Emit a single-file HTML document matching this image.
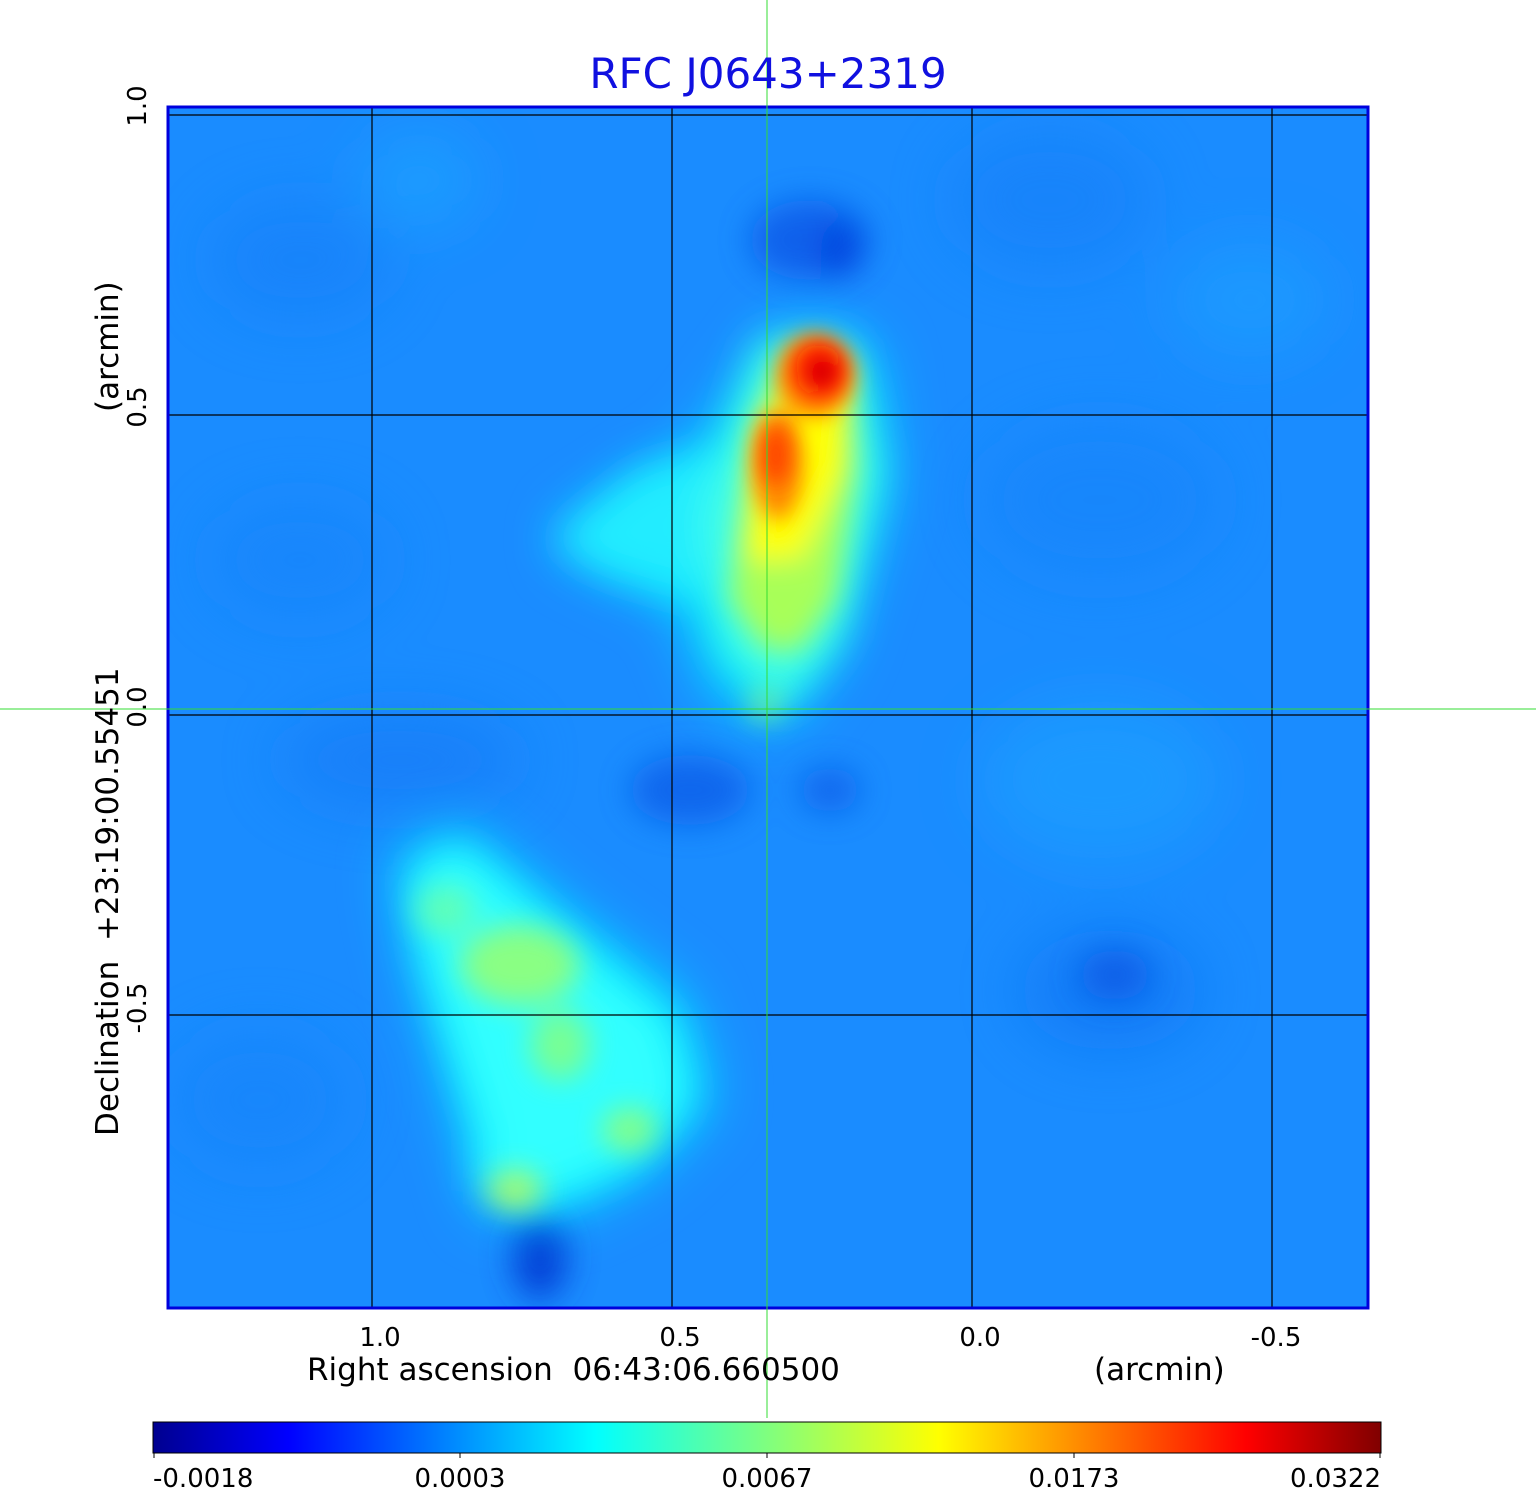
<!DOCTYPE html>
<html><head><style>
html,body{margin:0;padding:0;background:#fff;}
svg{display:block;font-family:"DejaVu Sans","Liberation Sans",sans-serif;}
</style></head><body>
<svg width="1536" height="1511" viewBox="0 0 1536 1511" xmlns="http://www.w3.org/2000/svg">
<defs>
<filter id="b1" x="-50%" y="-50%" width="200%" height="200%"><feGaussianBlur stdDeviation="30"/></filter>
<filter id="b2" x="-50%" y="-50%" width="200%" height="200%"><feGaussianBlur stdDeviation="16"/></filter>
<filter id="b3" x="-50%" y="-50%" width="200%" height="200%"><feGaussianBlur stdDeviation="10"/></filter>
<filter id="b5" x="-50%" y="-50%" width="200%" height="200%"><feGaussianBlur stdDeviation="14"/></filter>
<filter id="b4" x="-50%" y="-50%" width="200%" height="200%"><feGaussianBlur stdDeviation="20"/></filter>
<clipPath id="cp"><rect x="167" y="106" width="1202" height="1203"/></clipPath>
<linearGradient id="jet" x1="0" x2="1" y1="0" y2="0">
<stop offset="0" stop-color="#00008f"/>
<stop offset="0.11" stop-color="#0000ff"/>
<stop offset="0.36" stop-color="#00ffff"/>
<stop offset="0.5" stop-color="#7fff7f"/>
<stop offset="0.64" stop-color="#ffff00"/>
<stop offset="0.89" stop-color="#ff0000"/>
<stop offset="1" stop-color="#800000"/>
</linearGradient>
</defs>
<g clip-path="url(#cp)">
<rect x="167" y="106" width="1202" height="1203" fill="#1a8cff"/>
<g filter="url(#b1)" opacity="0.6">
<ellipse cx="300" cy="260" rx="90" ry="60" fill="#137ff8"/>
<ellipse cx="420" cy="180" rx="60" ry="50" fill="#1fa6ff"/>
<ellipse cx="1050" cy="200" rx="100" ry="70" fill="#137ff8"/>
<ellipse cx="1250" cy="300" rx="80" ry="60" fill="#1fa0ff"/>
<ellipse cx="1100" cy="500" rx="120" ry="80" fill="#1683fa"/>
<ellipse cx="1100" cy="780" rx="120" ry="80" fill="#1fa3ff"/>
<ellipse cx="1110" cy="990" rx="90" ry="60" fill="#0f72f2"/>
<ellipse cx="260" cy="1100" rx="90" ry="70" fill="#1683fa"/>
<ellipse cx="400" cy="760" rx="120" ry="50" fill="#1378f5"/>
<ellipse cx="300" cy="560" rx="90" ry="60" fill="#1683fa"/>
</g>
<g filter="url(#b2)" opacity="0.85">
<ellipse cx="810" cy="240" rx="60" ry="40" fill="#0a5ae8"/>
<ellipse cx="840" cy="250" rx="20" ry="28" fill="#0035d8"/>
<ellipse cx="690" cy="790" rx="60" ry="35" fill="#0a60ea"/>
<ellipse cx="830" cy="790" rx="30" ry="22" fill="#0a60ea"/>
<ellipse cx="540" cy="1255" rx="28" ry="45" fill="#0035d0"/>
<ellipse cx="1115" cy="975" rx="35" ry="25" fill="#0a5ae5"/>
</g>
<!-- top source -->
<g filter="url(#b1)">
<path d="M560 540 L700 450 L790 330 L870 350 L885 480 L830 650 L780 720 L720 700 L680 600 Z" fill="#00e5ff"/>
</g>
<g filter="url(#b4)">
<path d="M550 540 L640 470 L720 450 L700 600 L600 570 Z" fill="#20ecff"/>
<path d="M700 520 L760 340 L850 340 L880 470 L840 640 L780 710 L720 650 Z" fill="#40ffe8"/>
</g>
<g filter="url(#b5)">
<path d="M730 600 L750 430 L790 350 L850 360 L855 470 L835 600 L800 650 L765 650 Z" fill="#a8ff58"/>
<path d="M745 560 L760 430 L800 350 L850 370 L845 470 L800 560 Z" fill="#ffff00"/>
</g>
<g filter="url(#b3)">
<ellipse cx="815" cy="375" rx="38" ry="42" fill="#ff8000"/>
<ellipse cx="778" cy="465" rx="25" ry="55" fill="#ff8a00"/>
</g>
<g filter="url(#b3)">
<ellipse cx="820" cy="370" rx="25" ry="26" fill="#ff1000"/>
<ellipse cx="776" cy="455" rx="14" ry="30" fill="#ff4000"/>
<ellipse cx="822" cy="372" rx="11" ry="12" fill="#c00000"/>
</g>
<!-- bottom lobe -->
<g filter="url(#b1)">
<path d="M400 860 L460 830 L570 920 L680 1000 L710 1100 L640 1170 L560 1210 L490 1210 L470 1140 L420 960 Z" fill="#00e8ff"/>
</g>
<g filter="url(#b4)">
<path d="M410 870 L460 845 L560 930 L670 1020 L690 1100 L630 1165 L545 1200 L480 1190 L480 1130 L425 960 Z" fill="#30ffff"/>
</g>
<g filter="url(#b5)" opacity="0.75">
<ellipse cx="520" cy="965" rx="60" ry="40" fill="#a8ff5a"/>
<ellipse cx="560" cy="1045" rx="30" ry="35" fill="#90ff70"/>
<ellipse cx="630" cy="1130" rx="28" ry="22" fill="#a0ff60"/>
<ellipse cx="515" cy="1190" rx="28" ry="20" fill="#d0ff40"/>
<ellipse cx="445" cy="910" rx="30" ry="25" fill="#70ffa0"/>
<ellipse cx="765" cy="705" rx="15" ry="15" fill="#90ff70"/>
</g>
</g>
<g stroke="#000" stroke-width="1.2">
<line x1="372" y1="106" x2="372" y2="1309"/>
<line x1="672" y1="106" x2="672" y2="1309"/>
<line x1="972" y1="106" x2="972" y2="1309"/>
<line x1="1272" y1="106" x2="1272" y2="1309"/>
<line x1="167" y1="115" x2="1369" y2="115"/>
<line x1="167" y1="415" x2="1369" y2="415"/>
<line x1="167" y1="715" x2="1369" y2="715"/>
<line x1="167" y1="1015" x2="1369" y2="1015"/>
</g>
<rect x="168" y="107" width="1200" height="1201" fill="none" stroke="#0000dd" stroke-width="3"/>
<line x1="767" y1="0" x2="767" y2="1418" stroke="#33dd33" stroke-width="1"/>
<line x1="0" y1="709" x2="1536" y2="709" stroke="#33dd33" stroke-width="1"/>
<text x="768" y="88" font-size="42" fill="#1010e0" text-anchor="middle">RFC J0643+2319</text>
<g font-size="26" fill="#000" text-anchor="middle">
<text x="380" y="1346">1.0</text>
<text x="680" y="1346">0.5</text>
<text x="980" y="1346">0.0</text>
<text x="1276" y="1346">-0.5</text>
</g>
<text x="307" y="1380" font-size="31" fill="#000">Right ascension&#160;&#160;06:43:06.660500</text>
<text x="1094" y="1380" font-size="31" fill="#000">(arcmin)</text>
<g font-size="26" fill="#000" text-anchor="middle">
<text transform="translate(146,106) rotate(-90)">1.0</text>
<text transform="translate(146,407) rotate(-90)">0.5</text>
<text transform="translate(146,707) rotate(-90)">0.0</text>
<text transform="translate(146,1008) rotate(-90)">-0.5</text>
</g>
<text transform="translate(118,1136) rotate(-90)" font-size="31" fill="#000">Declination&#160;&#160;+23:19:00.55451</text>
<text transform="translate(118,412) rotate(-90)" font-size="31" fill="#000">(arcmin)</text>
<rect x="153" y="1422" width="1228" height="31" fill="url(#jet)" stroke="#000" stroke-width="1"/>
<g stroke="#000" stroke-width="1">
<line x1="154" y1="1453" x2="154" y2="1458"/>
<line x1="460" y1="1453" x2="460" y2="1458"/>
<line x1="767" y1="1453" x2="767" y2="1458"/>
<line x1="1074" y1="1453" x2="1074" y2="1458"/>
<line x1="1380" y1="1453" x2="1380" y2="1458"/>
</g>
<g font-size="26" fill="#000">
<text x="153" y="1487">-0.0018</text>
<text x="460" y="1487" text-anchor="middle">0.0003</text>
<text x="767" y="1487" text-anchor="middle">0.0067</text>
<text x="1074" y="1487" text-anchor="middle">0.0173</text>
<text x="1381" y="1487" text-anchor="end">0.0322</text>
</g>
</svg>
</body></html>
